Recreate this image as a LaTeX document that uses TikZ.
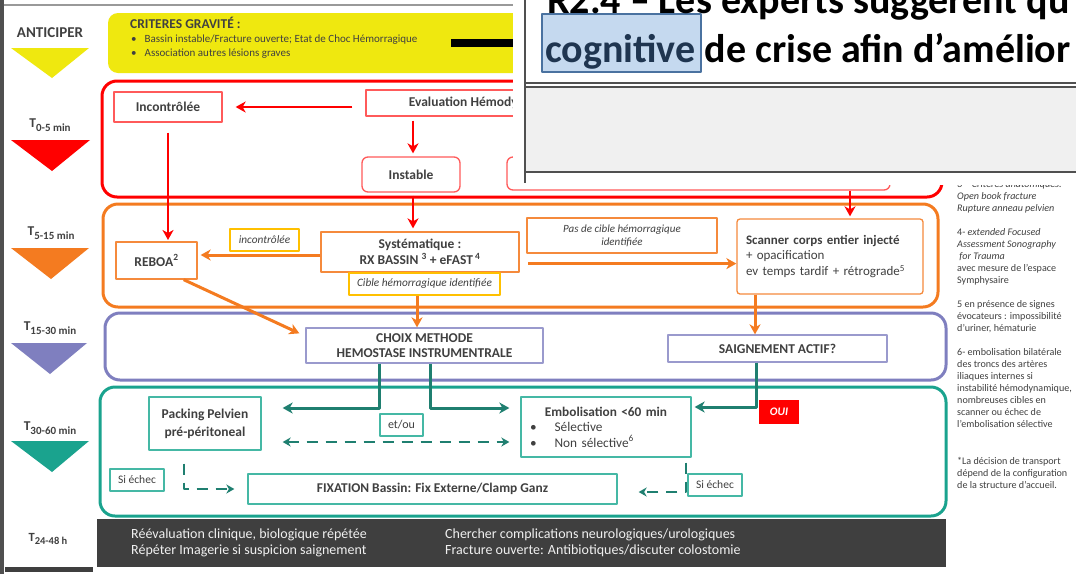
\documentclass[tikz,border=0pt]{standalone}
\usepackage{fontspec}
\setmainfont{Carlito}
\usetikzlibrary{arrows.meta,calc}
\definecolor{txt}{HTML}{404040}
\definecolor{yelfill}{HTML}{EFE80F}
\definecolor{redline}{HTML}{FF0000}
\definecolor{redbox}{HTML}{FF5A5A}
\definecolor{orangeline}{HTML}{F47B20}
\definecolor{orangebox}{HTML}{F58A3C}
\definecolor{gold}{HTML}{FFC000}
\definecolor{purpleline}{HTML}{7F7FBF}
\definecolor{purplebox}{HTML}{9A9ACD}
\definecolor{tealline}{HTML}{1AA38E}
\definecolor{tealbox}{HTML}{45B8A5}
\definecolor{tealarrow}{HTML}{1F7F70}
\definecolor{bandgray}{HTML}{3F3F3F}
\definecolor{ovl}{HTML}{505050}
\definecolor{panelgray}{HTML}{F0F0F0}
\definecolor{hilite}{HTML}{C5D9EF}
\definecolor{hiliteborder}{HTML}{4A72A0}
\definecolor{hilitetext}{HTML}{1F3550}

\begin{document}
\begin{tikzpicture}[x=1pt,y=-1pt,line join=round,
  font=\fontsize{12}{14.5}\selectfont,
  zone/.style={line width=3pt,rounded corners=15pt},
  box/.style={draw,line width=1.3pt,inner sep=0pt,align=center,text=txt,
    font=\bfseries\fontsize{13.5}{16.5}\selectfont},
  tagbox/.style={draw=gold,line width=1.2pt,inner sep=0pt,align=center,text=txt,
    font=\itshape\fontsize{11.3}{13}\selectfont},
  smallbox/.style={box,line width=1.1pt,font=\fontsize{11.5}{13}\selectfont},
  bigtip/.tip={Stealth[length=10pt,width=11pt,inset=3pt]},
  smalltip/.tip={Stealth[length=8pt,width=9pt,inset=2.5pt]},
  arr/.style={line width=2.6pt,-bigtip},
  dasharr/.style={line width=2.4pt,dash pattern=on 11pt off 8pt},
  tlab/.style={text=txt,inner sep=0pt,font=\bfseries\fontsize{13.5}{15}\selectfont}]
  \useasboundingbox (0,0) rectangle (1076,574);
  \fill[white] (0,0) rectangle (1076,574);
  \fill[ovl] (0,0) rectangle (3.5,574);
  \draw[gray!80,line width=1.5pt] (3.5,5) -- (513,5);

  % left column: phases
  \node[tlab,font=\bfseries\fontsize{15}{17}\selectfont] (lantic) at (50,33) {ANTICIPER};
  \fill[yelfill] (11,48) -- (89,48) -- (52,78) -- cycle;
  \node[tlab] (lt1) at (50,125) {T\raisebox{-3.5pt}{\fontsize{11}{12}\selectfont 0-5 min}};
  \fill[redline] (11,140) -- (90,140) -- (52,171) -- cycle;
  \node[tlab] (lt2) at (51,233) {T\raisebox{-3.5pt}{\fontsize{11}{12}\selectfont 5-15 min}};
  \fill[orangeline] (11,248) -- (89,248) -- (51,279) -- cycle;
  \node[tlab] (lt3) at (50,328) {T\raisebox{-3.5pt}{\fontsize{11}{12}\selectfont 15-30 min}};
  \fill[purpleline] (11,343) -- (87,343) -- (50,374) -- cycle;
  \node[tlab] (lt4) at (50,428) {T\raisebox{-3.5pt}{\fontsize{11}{12}\selectfont 30-60 min}};
  \fill[tealline] (11,441) -- (89,441) -- (52,472) -- cycle;
  \node[tlab,font=\bfseries\fontsize{12.5}{14}\selectfont] (lt5) at (48,539) {T\raisebox{-3.5pt}{\fontsize{10.5}{12}\selectfont 24-48 h}};
  \fill[bandgray] (5,567) rectangle (93,572);

  % criteres
  \fill[yelfill,rounded corners=10pt] (108,13) rectangle (600,73);
  \fill[black] (451,39) rectangle (560,47);
  \node[anchor=west,inner sep=0pt,text=txt,font=\bfseries\fontsize{13.5}{15}\selectfont] (crit) at (130,23) {CRITERES GRAVITÉ :};
  \node[anchor=west,inner sep=0pt,text=txt,font=\fontsize{11}{13}\selectfont] (crit1) at (131,40) {•\hspace{8pt}Bassin instable/Fracture ouverte; Etat de Choc Hémorragique};
  \node[anchor=west,inner sep=0pt,text=txt,font=\fontsize{11}{13}\selectfont] (crit2) at (131,54) {•\hspace{8pt}Association autres lésions graves};

  % zones
  \draw[zone,redline] (102,81) rectangle (942,197);
  \draw[zone,orangeline] (103,204) rectangle (938,307);
  \draw[zone,purpleline] (105,313) rectangle (946,380);
  \draw[zone,tealline] (100,387) rectangle (946,516);

  % T0-5
  \node[box,draw=redbox,minimum width=108pt,minimum height=30pt] (incontr) at (168,107) {Incontrôlée};
  \node[box,draw=redbox,minimum width=244pt,minimum height=26pt] (evalh) at (488,103) {Evaluation Hémodynamique};
  \node[box,draw=redbox,rounded corners=6pt,minimum width=98pt,minimum height=35pt] (instable) at (411,174.5) {Instable};
  \node[box,draw=redbox,rounded corners=6pt,minimum width=383pt,minimum height=33pt] (stable) at (698.5,173.5) {};
  \draw[arr,redline,shorten <=13pt,shorten >=13pt] (incontr.east -| evalh.west) -- (incontr.east);
  \draw[arr,redline,shorten <=4pt,shorten >=3pt] ([xshift=2pt]instable.north |- evalh.south) -- ([xshift=2pt]instable.north);
  \draw[arr,redline,shorten <=10pt,shorten >=2pt] (incontr.south) -- (incontr.south |- 0,242);

  % T5-15
  \node[box,draw=orangebox,minimum width=81pt,minimum height=37pt] (reboa) at (156.5,260.5) {REBOA\textsuperscript{2}};
  \node[box,draw=orangebox,minimum width=198pt,minimum height=40pt] (syst) at (420,252) {Systématique :\\RX BASSIN \textsuperscript{3} + eFAST\,\textsuperscript{4}};
  \node[tagbox,minimum width=69pt,minimum height=22pt] (taginc) at (264.5,240) {incontrôlée};
  \node[tagbox,minimum width=151pt,minimum height=22pt] (tagcible) at (424.5,284) {Cible hémorragique identifiée};
  \node[tagbox,draw=orangebox,minimum width=190pt,minimum height=35pt,font=\itshape\fontsize{11}{13}\selectfont] (tagpas) at (622,235.5) {Pas de cible hémorragique\\identifiée};
  \node[box,draw=orangebox,rounded corners=3pt,minimum width=186pt,minimum height=75pt,
    text width=168pt,inner xsep=9pt,align=left,font=\fontsize{13}{15.5}\selectfont] (scanner) at (830,256.5)
    {\textbf{Scanner corps entier injecté}\\+ opacification\\ev temps tardif + rétrograde\textsuperscript{5}};
  \draw[arr,redline,shorten <=3pt,shorten >=3pt] ([xshift=2pt]instable.south) -- ([xshift=2pt]instable.south |- syst.north);
  \draw[arr,redline,shorten >=2pt] ([xshift=20pt]scanner.north |- stable.south) -- ([xshift=20pt]scanner.north);
  \draw[arr,orangeline,line width=3pt,shorten >=3pt] ([yshift=-3pt]syst.west) -- ([yshift=-3pt]syst.west -| reboa.east);
  \draw[arr,orangeline,line width=3pt,shorten <=2pt] ([yshift=-10pt]tagpas.south west) -- ([yshift=-10pt]tagpas.south west -| scanner.west);

  % T15-30
  \node[box,draw=purplebox,minimum width=237pt,minimum height=35pt,font=\bfseries\fontsize{13.5}{15.5}\selectfont] (choix) at (424.5,345.5) {CHOIX METHODE\\HEMOSTASE INSTRUMENTRALE};
  \node[box,draw=purplebox,minimum width=219pt,minimum height=27pt,font=\bfseries\fontsize{13.5}{15.5}\selectfont] (saign) at (777.5,348.5) {SAIGNEMENT ACTIF?};
  \draw[arr,orangeline,line width=3pt] ([xshift=-7.5pt]tagcible.south) -- ([xshift=-7.5pt]tagcible.south |- choix.north);
  \draw[arr,orangeline,line width=3pt] ([xshift=-14pt]reboa.south east) -- ([shift={(-6pt,-6pt)}]choix.north west);
  \draw[arr,orangeline,line width=3pt] ([xshift=-75pt]scanner.south) -- ([xshift=-75pt]scanner.south |- saign.north);

  % T30-60
  \node[box,draw=tealbox,minimum width=112pt,minimum height=53pt,font=\bfseries\fontsize{13.5}{18}\selectfont] (packing) at (205,423.5) {Packing Pelvien\\pré-péritoneal};
  \node[smallbox,draw=tealbox,minimum width=43pt,minimum height=22pt,font=\fontsize{12}{13}\selectfont] (etou) at (401.5,425) {et/ou};
  \node[box,draw=tealbox,minimum width=170pt,minimum height=60pt,text width=158pt,inner xsep=6pt,align=left,
    font=\fontsize{13.3}{15.5}\selectfont] (embol) at (606,427)
    {\makebox[158pt][c]{\bfseries Embolisation <60 min}\\
     \hspace{3pt}\textbullet\hspace{18pt}Sélective\\
     \hspace{3pt}\textbullet\hspace{18pt}Non sélective\textsuperscript{6}};
  \node[fill=redline,text=white,inner sep=0pt,minimum width=40pt,minimum height=24pt,
    font=\bfseries\itshape\fontsize{11.5}{13}\selectfont] (oui) at (779,412) {OUI};
  \node[box,draw=tealbox,minimum width=369pt,minimum height=30pt,font=\bfseries\fontsize{13.4}{15}\selectfont] (fixation) at (432.5,489) {FIXATION Bassin: Fix Externe/Clamp Ganz};
  \node[smallbox,draw=tealbox,minimum width=54pt,minimum height=22pt] (echecl) at (137,480) {Si échec};
  \node[smallbox,draw=tealbox,minimum width=54pt,minimum height=22pt] (echecr) at (715,485) {Si échec};
  \draw[arr,tealarrow,line width=3pt] ([xshift=-45.5pt]choix.south) |- ([shift={(21pt,15.5pt)}]packing.east);
  \draw[arr,tealarrow,line width=3pt] ([xshift=5.5pt]choix.south) |- ([shift={(-11pt,19pt)}]embol.west);
  \draw[arr,tealarrow,line width=3pt] ([xshift=-21.5pt]saign.south) |- ([shift={(3pt,20pt)}]embol.east);
  \draw[dasharr,tealarrow,smalltip-smalltip] ([shift={(21pt,-18.5pt)}]packing.east) -- ([shift={(-11pt,-15pt)}]embol.west);
  \draw[dasharr,tealarrow,-smalltip] ([shift={(-21pt,-13pt)}]packing.south) |- ([xshift=-13pt]fixation.west);
  \draw[dasharr,tealarrow,-smalltip] ([shift={(80pt,-5pt)}]embol.south) |- ([shift={(21pt,-3pt)}]fixation.east);

  % T24-48
  \fill[bandgray] (97,519) rectangle (946,567);
  \node[anchor=west,inner sep=0pt,text=white!94!black,align=left,font=\fontsize{14}{16}\selectfont] (suivi1) at (131,543)
    {Réévaluation clinique, biologique répétée\\Répéter Imagerie si suspicion saignement};
  \node[anchor=west,inner sep=0pt,text=white!94!black,align=left,font=\fontsize{14}{16}\selectfont] (suivi2) at (445,543)
    {Chercher complications neurologiques/urologiques\\Fracture ouverte: Antibiotiques/discuter colostomie};

  % notes
  \node[anchor=north west,align=left,text=txt,inner sep=0pt,font=\fontsize{10.1}{12}\selectfont] (notes) at (957,180)
    {\textit{3 – Critères anatomiques:}\\
     \textit{Open book fracture}\\
     \textit{Rupture anneau pelvien}\\[12pt]
     4- \textit{extended Focused}\\
     \textit{Assessment Sonography}\\
     \textit{\ for Trauma}\\
     avec mesure de l’espace\\
     Symphysaire\\[12pt]
     5 en présence de signes\\
     évocateurs : impossibilité\\
     d’uriner, hématurie\\[12pt]
     6- embolisation bilatérale\\
     des troncs des artères\\
     iliaques internes si\\
     instabilité hémodynamique,\\
     nombreuses cibles en\\
     scanner ou échec de\\
     l’embolisation sélective\\[25pt]
     *La décision de transport\\
     dépend de la configuration\\
     de la structure d’accueil.};

  % window on top
  \fill[white] (513,0) rectangle (1076,185);
  \fill[panelgray] (525,87) rectangle (1076,172);
  \draw[ovl,line width=1.5pt] (525,0) -- (525,183);
  \draw[ovl,line width=1.5pt] (525,83) -- (1076,83) (525,87) -- (1076,87) (525,172) -- (1076,172);
  \begin{scope}
    \clip (526,0) rectangle (1076,82);
    \filldraw[fill=hilite,draw=hiliteborder,line width=1.2pt] (542,14) rectangle (701,72);
    \node[anchor=base west,inner sep=0pt,font=\bfseries\fontsize{40}{42}\selectfont] (ovl1) at (547,13) {R2.4 – Les experts suggerent qu};
    \node[anchor=base west,inner sep=0pt,font=\bfseries\fontsize{40}{42}\selectfont] (ovl2) at (545,62)
      {\textcolor{hilitetext}{cognitive} de crise afin d’amélior};
  \end{scope}
\end{tikzpicture}
\end{document}
